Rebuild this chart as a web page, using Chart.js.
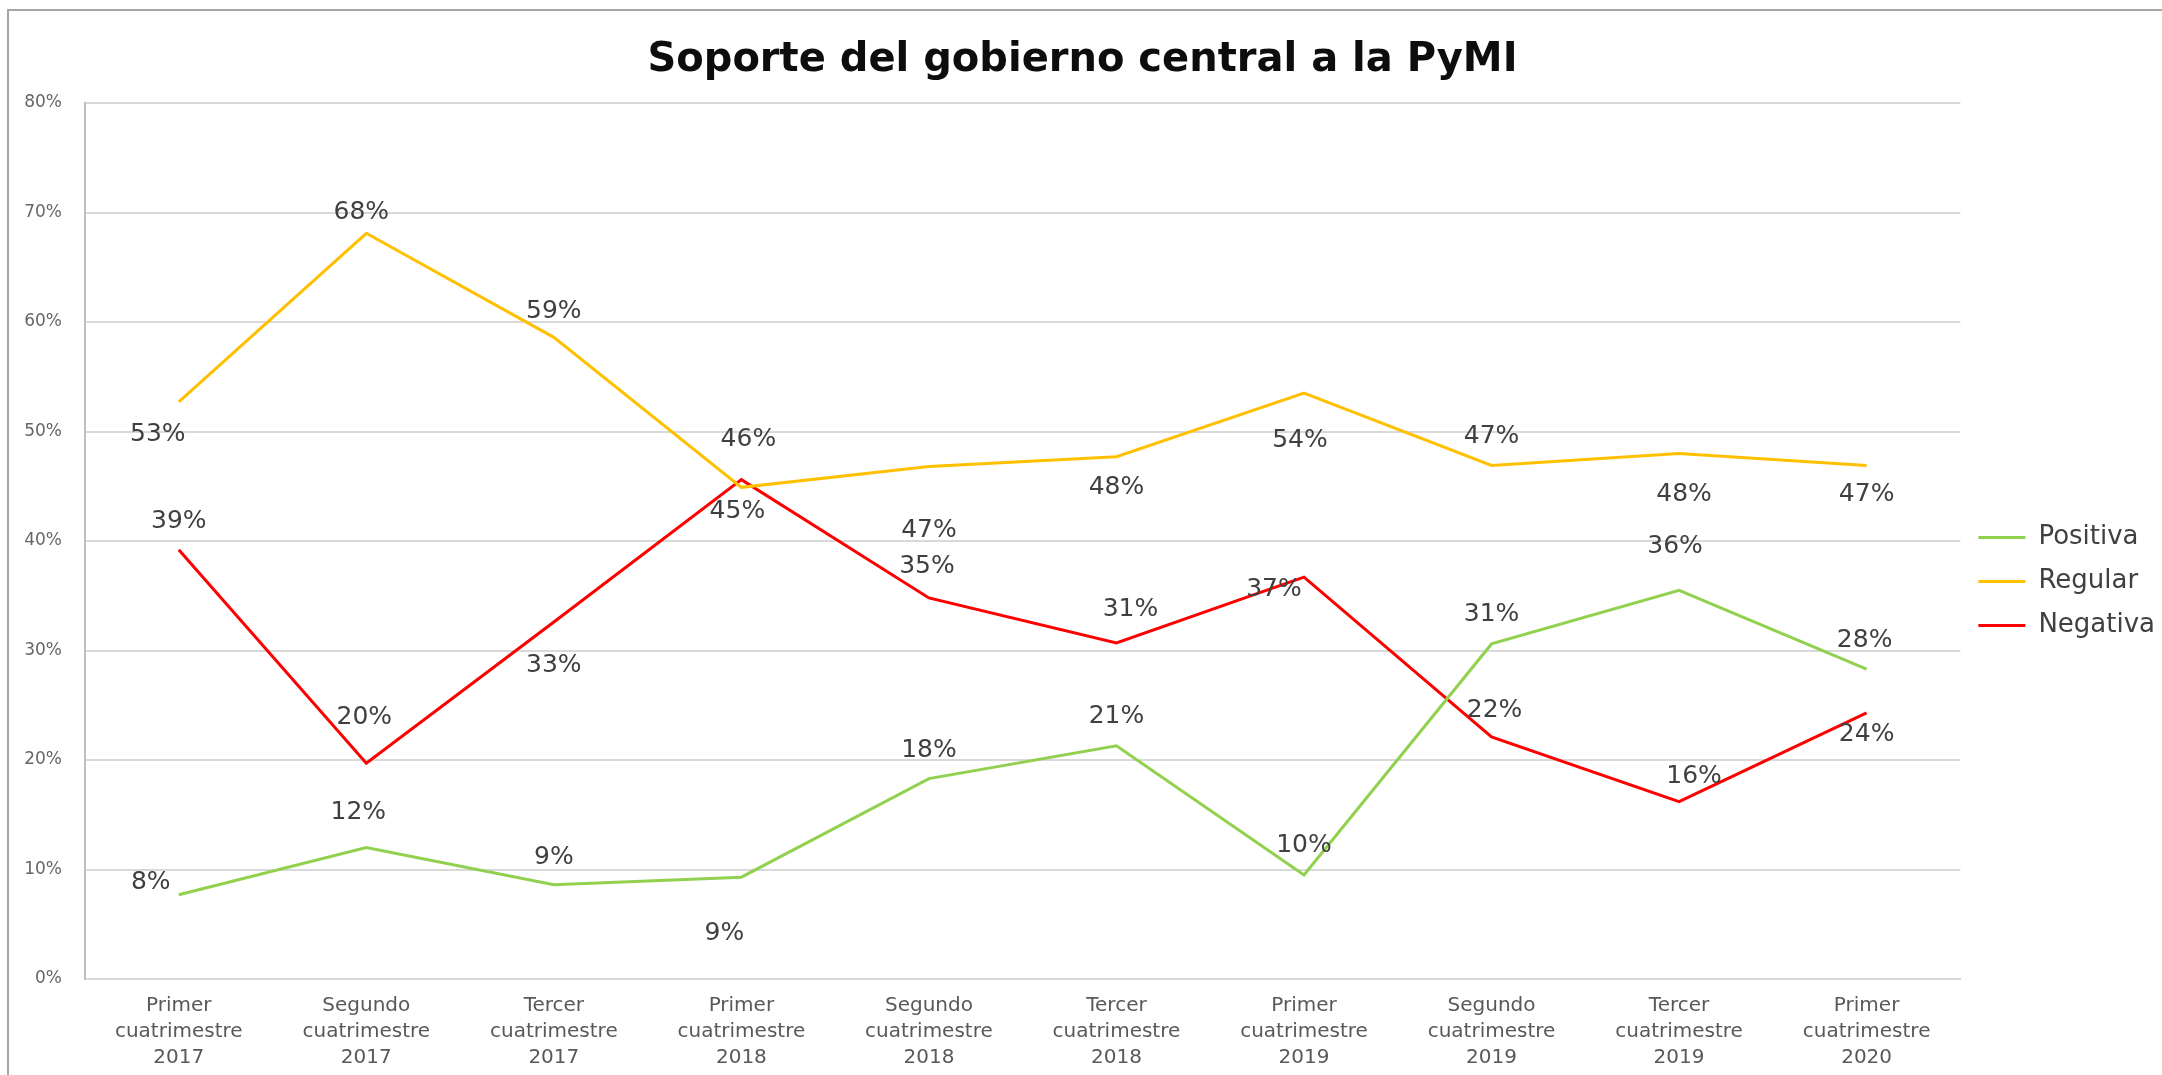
<!DOCTYPE html>
<html lang="es">
<head>
<meta charset="UTF-8">
<title>Soporte del gobierno central a la PyMI</title>
<script src="https://cdn.jsdelivr.net/npm/chart.js@4.4.1/dist/chart.umd.min.js"></script>
<style>
  html, body { margin: 0; padding: 0; background: #fff; }
  #wrap { position: relative; width: 2162px; height: 1075px; }
</style>
</head>
<body>
<div id="wrap"><canvas id="chart"></canvas></div>
<script>
// periodos (eje x)
const periodos = [
    ['Primer', 'cuatrimestre', '2017'],
    ['Segundo', 'cuatrimestre', '2017'],
    ['Tercer', 'cuatrimestre', '2017'],
    ['Primer', 'cuatrimestre', '2018'],
    ['Segundo', 'cuatrimestre', '2018'],
    ['Tercer', 'cuatrimestre', '2018'],
    ['Primer', 'cuatrimestre', '2019'],
    ['Segundo', 'cuatrimestre', '2019'],
    ['Tercer', 'cuatrimestre', '2019'],
    ['Primer', 'cuatrimestre', '2020']
];

// valores en %
const positiva = [7.7, 12.0, 8.6, 9.3, 18.3, 21.3, 9.5, 30.6, 35.5, 28.3];
const regular  = [52.7, 68.1, 58.6, 44.9, 46.8, 47.7, 53.5, 46.9, 48.0, 46.9];
const negativa = [39.2, 19.7, 32.6, 45.6, 34.8, 30.7, 36.7, 22.1, 16.2, 24.3];

const yTicks = [0, 10, 20, 30, 40, 50, 60, 70, 80];

// desplazamiento de cada etiqueta respecto a su punto [dx, dy] en px
const despPositiva = [[-28, -12], [-8, -35], [0, -27], [-17, 56], [0, -28], [0, -29], [0, -29], [0, -29], [-4, -44], [-2, -29]];
const despRegular  = [[-21, 33], [-5, -21], [0, -26], [-4, 24], [0, 64], [0, 31], [-4, 47], [0, -29], [5, 41], [0, 29]];
const despNegativa = [[0, -28], [-2, -46], [0, 43], [7, -40], [-2, -31], [14, -33], [-30, 12], [3, -27], [15, -25], [0, 22]];

const FONT = '"DejaVu Sans", "Noto Sans", sans-serif';

const marco = {
    id: 'marco',
    beforeDraw(chart) {
        const ctx = chart.ctx;
        ctx.save();
        ctx.fillStyle = '#fff';
        ctx.fillRect(0, 0, chart.width, chart.height);
        ctx.strokeStyle = '#a6a6a6';
        ctx.lineWidth = 2;
        ctx.beginPath();
        ctx.moveTo(8, chart.height + 5);
        ctx.lineTo(8, 10);
        ctx.lineTo(chart.width + 5, 10);
        ctx.stroke();
        ctx.restore();
    }
};

const etiquetas = {
    id: 'etiquetas',
    afterDatasetsDraw(chart) {
        const ctx = chart.ctx;
        ctx.save();
        ctx.font = '25px ' + FONT;
        ctx.fillStyle = '#404040';
        ctx.textAlign = 'center';
        ctx.textBaseline = 'middle';
        chart.data.datasets.forEach((ds, i) => {
            chart.getDatasetMeta(i).data.forEach((pt, j) => {
                const [dx, dy] = ds.desp[j];
                ctx.fillText(Math.round(ds.data[j]) + '%', pt.x + dx, pt.y + dy);
            });
        });
        ctx.restore();
    }
};

new Chart(document.getElementById('chart'), {
    type: 'line',
    data: {
        labels: periodos,
        datasets: [
            { label: 'Positiva', data: positiva, desp: despPositiva, borderColor: '#92d050', backgroundColor: '#92d050', borderWidth: 3 },
            { label: 'Regular', data: regular, desp: despRegular, borderColor: '#ffc000', backgroundColor: '#ffc000', borderWidth: 3 },
            { label: 'Negativa', data: negativa, desp: despNegativa, borderColor: '#ff0000', backgroundColor: '#ff0000', borderWidth: 3 }
        ]
    },
    options: {
        responsive: true,
        maintainAspectRatio: false,
        animation: false,
        elements: {
            line: { tension: 0 },
            point: { radius: 0, hoverRadius: 0 }
        },
        layout: { padding: { left: 0, right: -3, top: 0, bottom: 2 } },
        plugins: {
            title: {
                display: true,
                text: 'Soporte del gobierno central a la PyMI',
                color: '#0d0d0d',
                font: { family: FONT, size: 40, weight: 'bold' },
                padding: { top: 37, bottom: 18 }
            },
            legend: {
                position: 'right',
                title: { display: true, text: ' ', font: { size: 10 }, padding: { top: 78, bottom: 0 } },
                labels: {
                    usePointStyle: true,
                    pointStyle: 'line',
                    pointStyleWidth: 47,
                    color: '#404040',
                    font: { family: FONT, size: 26 },
                    padding: 18
                }
            },
            tooltip: { enabled: false }
        },
        scales: {
            x: {
                offset: true,
                afterFit(axis) { axis.height = 94; },
                grid: { display: false, drawTicks: false },
                border: { display: true, color: '#d9d9d9', width: 2 },
                ticks: {
                    color: '#595959',
                    font: { family: FONT, size: 20, lineHeight: 1.3 },
                    padding: 14,
                    maxRotation: 0,
                    autoSkip: false
                }
            },
            y: {
                min: 0,
                max: 80,
                afterBuildTicks(axis) {
                    axis.ticks = yTicks.map(v => ({ value: v }));
                },
                afterFit(axis) { axis.width = 85; },
                grid: { color: '#d9d9d9', lineWidth: 2, drawTicks: false },
                border: { display: true, color: '#bfbfbf', width: 2 },
                ticks: {
                    color: '#666666',
                    font: { family: FONT, size: 17 },
                    padding: 23,
                    callback: v => v + '%'
                }
            }
        }
    },
    plugins: [marco, etiquetas]
});
</script>
</body>
</html>
